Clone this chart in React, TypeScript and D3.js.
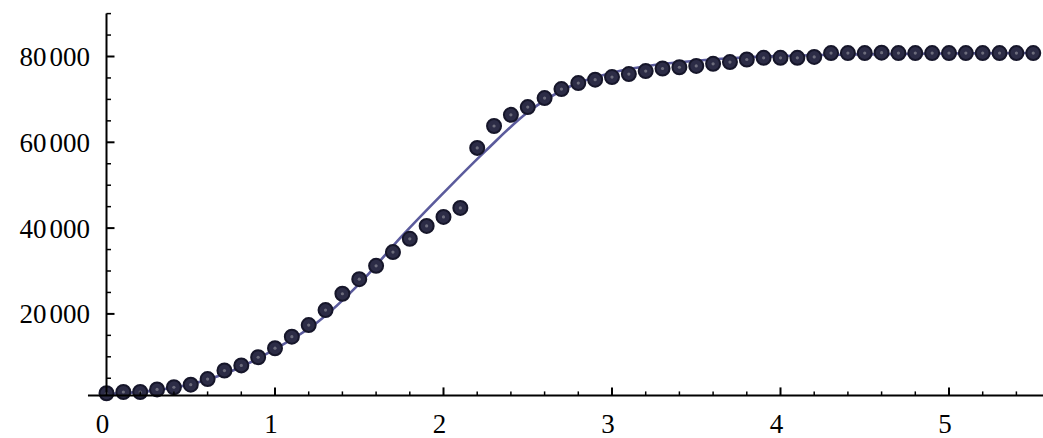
import React from 'react';
import * as d3 from 'd3';

const times = [
  0, 0.1, 0.2, 0.3, 0.4, 0.5, 0.6, 0.7, 0.8, 0.9,
  1.0, 1.1, 1.2, 1.3, 1.4, 1.5, 1.6, 1.7, 1.8, 1.9,
  2.0, 2.1, 2.2, 2.3, 2.4, 2.5, 2.6, 2.7, 2.8, 2.9,
  3.0, 3.1, 3.2, 3.3, 3.4, 3.5, 3.6, 3.7, 3.8, 3.9,
  4.0, 4.1, 4.2, 4.3, 4.4, 4.5, 4.6, 4.7, 4.8, 4.9,
  5.0, 5.1, 5.2, 5.3, 5.4, 5.5,
];
const counts = [
  1500, 1800, 1800, 2400, 2900, 3500, 4800, 6800, 8000, 9900,
  12000, 14700, 17400, 20900, 24700, 28100, 31200, 34400, 37500, 40500,
  42600, 44700, 58700, 63800, 66400, 68200, 70300, 72400, 73800, 74600,
  75200, 75900, 76600, 77200, 77500, 77800, 78300, 78700, 79300, 79700,
  79700, 79700, 79900, 80800, 80800, 80800, 80900, 80800, 80800, 80800,
  80800, 80800, 80800, 80800, 80800, 80800,
];

// fitted curve, read at a few x positions
const fitX = [0, 0.25, 0.5, 0.75, 1.0, 1.25, 1.5, 1.75, 2.0, 2.25, 2.5, 2.75, 3.0, 3.25, 3.5, 3.75, 4.0, 4.5, 5.0, 5.5];
const fitY = [1300, 2000, 3600, 6800, 11800, 18000, 27000, 38000, 48200, 58000, 67000, 73000, 76200, 78000, 79000, 79700, 80100, 80500, 80700, 80800];

const xMajor = [1, 2, 3, 4, 5];
const xLabels = ['0', '1', '2', '3', '4', '5'];
const yMajor = [20000, 40000, 60000, 80000];

const W = 1043;
const H = 438;

export default function App() {
  const x = d3.scaleLinear().domain([0, 5]).range([106.5, 949]);
  const y = d3.scaleLinear().domain([0, 80000]).range([399.7, 56.5]);

  const xMin = -0.11;
  const xMax = 5.57;
  const yMin = 1000;
  const yMax = 90000;

  const xMinor = d3.range(0.2, 5.6, 0.2).filter(v => Math.abs(v - Math.round(v)) > 0.01);
  const yMinor = d3.range(5000, 90001, 5000).filter(v => v % 20000 !== 0);

  const line = d3.line<number>()
    .x((d, i) => x(fitX[i]))
    .y(d => y(d))
    .curve(d3.curveMonotoneX);

  const font = '"Liberation Serif", "Times New Roman", serif';
  const axisY0 = y(yMin);

  return (
    <svg width={W} height={H} style={{ position: 'absolute', left: 0, top: 0, background: '#fff' }}>
      {/* fitted curve */}
      <path d={line(fitY) || ''} fill="none" stroke="#5b5b9c" strokeWidth={2.6} />

      {/* data points */}
      <g>
        {counts.map((c, i) => (
          <g key={i}>
            <circle cx={x(times[i])} cy={y(c)} r={7} fill="#2c2c46" stroke="#16162a" strokeWidth={2} />
            <circle cx={x(times[i])} cy={y(c)} r={1.6} fill="#6c6c7c" />
          </g>
        ))}
      </g>

      {/* x axis */}
      <g stroke="#000">
        <line x1={x(xMin)} x2={x(xMax)} y1={axisY0} y2={axisY0} strokeWidth={2} />
        {xMajor.map(t => (
          <line key={t} x1={x(t)} x2={x(t)} y1={axisY0} y2={axisY0 - 8} strokeWidth={2} />
        ))}
        {xMinor.map(t => (
          <line key={t} x1={x(t)} x2={x(t)} y1={axisY0} y2={axisY0 - 4} strokeWidth={1.5} />
        ))}
      </g>
      <g fontFamily={font} fontSize={27} fill="#000" textAnchor="middle">
        {xLabels.map((l, i) => (
          <text key={l} x={x(i) - 4} y={432.5}>{l}</text>
        ))}
      </g>

      {/* y axis */}
      <g stroke="#000">
        <line x1={x(0)} x2={x(0)} y1={axisY0} y2={y(yMax)} strokeWidth={2} />
        {yMajor.map(t => (
          <line key={t} x1={x(0)} x2={x(0) + 8} y1={y(t)} y2={y(t)} strokeWidth={2} />
        ))}
        {yMinor.map(t => (
          <line key={t} x1={x(0)} x2={x(0) + 4.5} y1={y(t)} y2={y(t)} strokeWidth={1.5} />
        ))}
      </g>
      <g fontFamily={font} fontSize={27} fill="#000" textAnchor="end">
        {yMajor.map(t => {
          const s = String(t);
          return (
            <text key={t} x={90} y={y(t) + 9.5}>
              <tspan>{s.slice(0, 2)}</tspan>
              <tspan dx={3}>{s.slice(2)}</tspan>
            </text>
          );
        })}
      </g>
    </svg>
  );
}
